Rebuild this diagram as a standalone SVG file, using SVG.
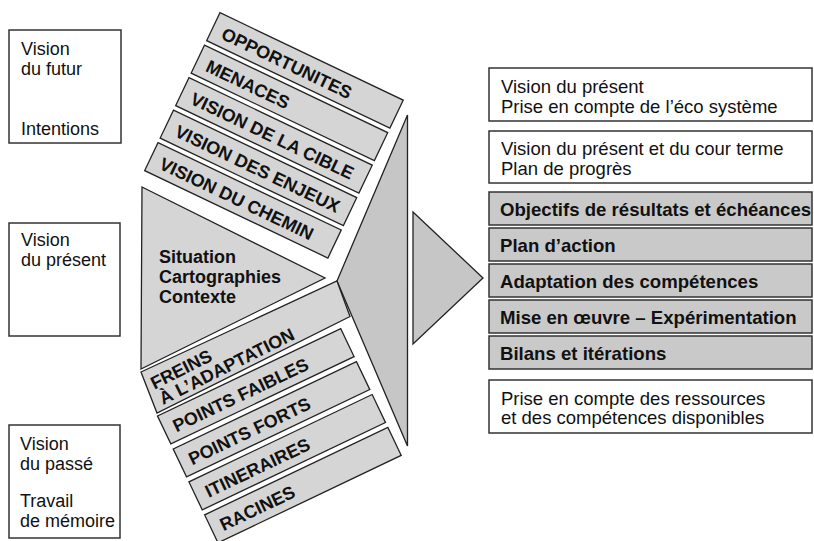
<svg xmlns="http://www.w3.org/2000/svg" width="814" height="541" viewBox="0 0 814 541">
<style>
text{font-family:"Liberation Sans",Arial,Helvetica,sans-serif;fill:#111;}
.r{font-size:18px;}
.rr{font-size:18.5px;}
.b{font-size:18px;font-weight:bold;}
.bb{font-size:18.6px;font-weight:bold;}
.box{fill:#fff;stroke:#333;stroke-width:1.5;}
.gbox{fill:#c9c9c9;stroke:#333;stroke-width:1.5;}
.bar{fill:#d5d5d5;stroke:#222;stroke-width:1.3;}
.pan{fill:#c6c6c6;stroke:#222;stroke-width:1.3;stroke-linejoin:miter;}
</style>
<rect width="814" height="541" fill="#fff"/>

<g id="connectors"></g>

<g id="left-futur">
<rect class="box" x="9" y="30" width="112" height="113"/>
<text class="r" x="21" y="54.5">Vision</text>
<text class="r" x="21" y="74.5">du futur</text>
<text class="r" x="21" y="135">Intentions</text>
</g>
<g id="left-present">
<rect class="box" x="9" y="223" width="111" height="113"/>
<text class="r" x="21" y="245.5">Vision</text>
<text class="r" x="21" y="265.5">du présent</text>
</g>
<g id="left-passe">
<rect class="box" x="9" y="425" width="111" height="113"/>
<text class="r" x="20" y="450">Vision</text>
<text class="r" x="20" y="470">du passé</text>
<text class="r" x="20" y="507">Travail</text>
<text class="r" x="20" y="527">de mémoire</text>
</g>

<g id="panel">
<polygon class="pan" points="407.5,115 337,281 407.5,446"/>
</g>

<g id="situation">
<polygon class="bar" points="142,187 325,278 141,369"/>
<text class="b" x="159" y="263">Situation</text>
<text class="b" x="159" y="283">Cartographies</text>
<text class="b" x="159" y="303">Contexte</text>
</g>

<g id="freins">
<polygon class="bar" points="141,372 337,281 350,316.5 157,413"/>
<g transform="translate(141,374) rotate(-26.5)">
<text class="b" x="5" y="20">FREINS</text>
<text class="b" x="6" y="37.5">À L’ADAPTATION</text>
</g>
</g>

<g transform="translate(220,12.7) rotate(25.5)">
<g id="opportunites"><rect class="bar" x="0" y="0" width="203" height="31"/><text class="b" x="11" y="23">OPPORTUNITES</text></g>
<g id="menaces"><rect class="bar" x="0" y="36" width="203" height="31"/><text class="b" x="11" y="59">MENACES</text></g>
<g id="cible"><rect class="bar" x="0" y="72" width="203" height="31"/><text class="b" x="11" y="95">VISION DE LA CIBLE</text></g>
<g id="enjeux"><rect class="bar" x="0" y="108" width="203" height="31"/><text class="b" x="11" y="131">VISION DES ENJEUX</text></g>
<g id="chemin"><rect class="bar" x="0" y="144" width="203" height="31"/><text class="b" x="11" y="167">VISION DU CHEMIN</text></g>
</g>

<g transform="translate(157.5,416) rotate(-25.5)">
<g id="faibles"><rect class="bar" x="0" y="0" width="203" height="31"/><text class="b" x="10" y="23">POINTS FAIBLES</text></g>
<g id="forts"><rect class="bar" x="0" y="36.5" width="203" height="31"/><text class="b" x="10" y="59.5">POINTS FORTS</text></g>
<g id="itineraires"><rect class="bar" x="0" y="73" width="203" height="31"/><text class="b" x="11" y="96">ITINERAIRES</text></g>
<g id="racines"><rect class="bar" x="0" y="109.5" width="203" height="31"/><text class="b" x="10" y="132.5">RACINES</text></g>
</g>

<g id="arrow">
<polygon class="pan" points="413,212 483,278 413,344"/>
</g>

<g id="r-eco">
<rect class="box" x="489" y="68" width="323" height="53"/>
<text class="rr" x="501" y="93">Vision du présent</text>
<text class="rr" x="501" y="113">Prise en compte de l’éco système</text>
</g>
<g id="r-progres">
<rect class="box" x="489" y="131" width="323" height="52"/>
<text class="rr" x="501" y="155">Vision du présent et du cour terme</text>
<text class="rr" x="501" y="175">Plan de progrès</text>
</g>
<g id="r-objectifs">
<rect class="gbox" x="489" y="192" width="323" height="33"/>
<text class="bb" x="500" y="216">Objectifs de résultats et échéances</text>
</g>
<g id="r-plan">
<rect class="gbox" x="489" y="228" width="323" height="33"/>
<text class="bb" x="500" y="252">Plan d’action</text>
</g>
<g id="r-adaptation">
<rect class="gbox" x="489" y="264" width="323" height="33"/>
<text class="bb" x="500" y="288">Adaptation des compétences</text>
</g>
<g id="r-mise">
<rect class="gbox" x="489" y="300" width="323" height="33"/>
<text class="bb" x="500" y="324">Mise en œuvre – Expérimentation</text>
</g>
<g id="r-bilans">
<rect class="gbox" x="489" y="336" width="323" height="33"/>
<text class="bb" x="500" y="360">Bilans et itérations</text>
</g>
<g id="r-ressources">
<rect class="box" x="489" y="380" width="323" height="53"/>
<text class="rr" x="501" y="405">Prise en compte des ressources</text>
<text class="rr" x="501" y="424">et des compétences disponibles</text>
</g>
</svg>
